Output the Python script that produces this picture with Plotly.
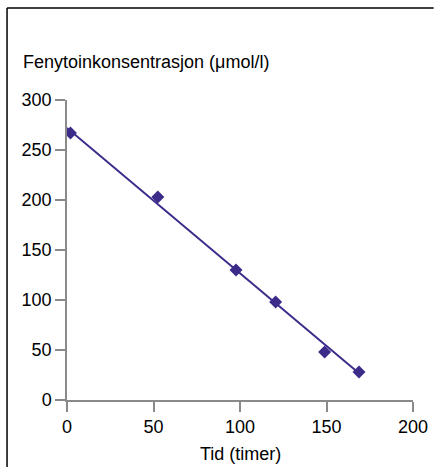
import plotly.graph_objects as go

# Data
tid = [2, 52.5, 97.7, 120.6, 148.9, 168.8]
konsentrasjon = [267, 203, 130, 98, 48, 28]
fit_x = [0, 170]
fit_y = [272, 25]

x_ticks = [0, 50, 100, 150, 200]
y_ticks = [0, 50, 100, 150, 200, 250, 300]

color = "#3d2b8a"
axis_color = "#8a8a8a"
font = "Liberation Sans, Arial, sans-serif"

fig = go.Figure()
fig.add_trace(go.Scatter(x=fit_x, y=fit_y, mode="lines",
                         line=dict(color=color, width=2), showlegend=False,
                         hoverinfo="skip"))
fig.add_trace(go.Scatter(x=tid, y=konsentrasjon, mode="markers",
                         marker=dict(symbol="diamond", size=10, color=color),
                         showlegend=False))

W, H = 440, 467
L, R, T, B = 67, 21, 100, 67
pw, ph = W - L - R, H - T - B

def px(xp):
    return (xp - L) / pw

def py(yp):
    return (H - B - yp) / ph

fig.update_layout(
    width=W, height=H,
    margin=dict(l=L, r=R, t=T, b=B, pad=0),
    paper_bgcolor="white", plot_bgcolor="white",
    font=dict(family=font, size=18, color="black"),
    xaxis=dict(range=[0, 200], tickvals=x_ticks, showgrid=False, zeroline=False,
               showline=True, linecolor=axis_color, linewidth=1.5,
               ticks="outside", ticklen=10, tickcolor=axis_color, tickwidth=1.5,
               tickfont=dict(size=18)),
    yaxis=dict(range=[0, 300], tickvals=y_ticks, showgrid=False, zeroline=False,
               showline=True, linecolor=axis_color, linewidth=1.5,
               ticks="outside", ticklen=10, tickcolor=axis_color, tickwidth=1.5,
               tickfont=dict(size=18)),
    annotations=[
        dict(text="Fenytoinkonsentrasjon (μmol/l)", xref="paper", yref="paper",
             x=px(20), y=py(62), xanchor="left", yanchor="middle",
             showarrow=False, font=dict(size=18)),
        dict(text="Tid (timer)", xref="paper", yref="paper",
             x=0.5, y=py(454), xanchor="center", yanchor="middle",
             showarrow=False, font=dict(size=18)),
    ],
    shapes=[
        dict(type="line", xref="paper", yref="paper", x0=px(6), x1=px(440),
             y0=py(8), y1=py(8), line=dict(color="black", width=1.5)),
        dict(type="line", xref="paper", yref="paper", x0=px(6), x1=px(6),
             y0=py(8), y1=py(467), line=dict(color="black", width=1.5)),
    ],
)

fig.write_html("out.html", config={"displayModeBar": False},
               post_script="document.body.style.margin='0';document.body.style.overflow='hidden';")
